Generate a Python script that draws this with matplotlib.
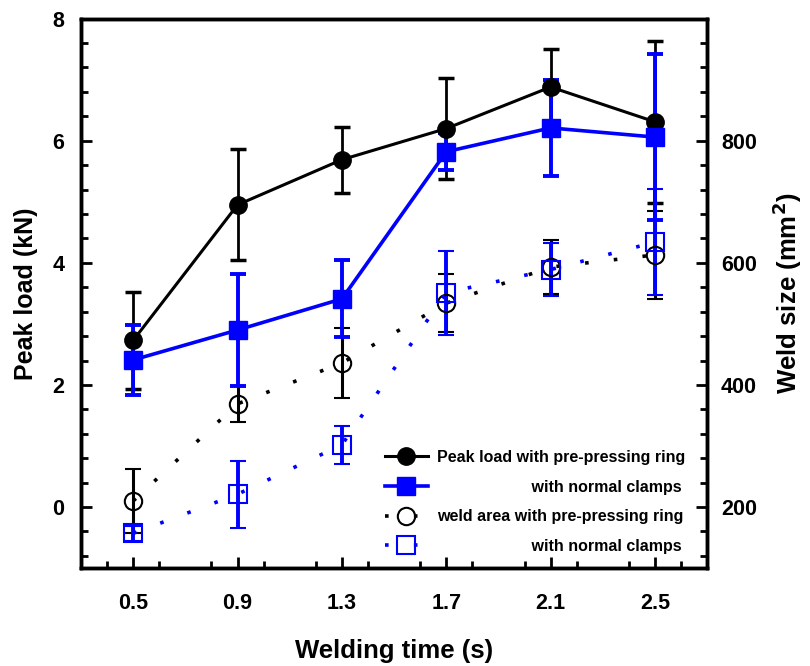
import matplotlib
matplotlib.use('Agg')
import matplotlib.pyplot as plt
from matplotlib.lines import Line2D
from matplotlib.ticker import MultipleLocator

plt.rcParams['font.family'] = ['Liberation Sans', 'DejaVu Sans']
plt.rcParams['font.weight'] = 'bold'

# welding time (s)
tiempo = [0.5, 0.9, 1.3, 1.7, 2.1, 2.5]

# peak load (kN)
carga_anel = [2.73, 4.95, 5.69, 6.20, 6.88, 6.31]
erro_carga_anel = [0.79, 0.91, 0.54, 0.82, 0.62, 1.33]
carga_normal = [2.41, 2.90, 3.41, 5.82, 6.21, 6.06]
erro_carga_normal = [0.58, 0.92, 0.63, 0.30, 0.78, 1.36]

# weld size (mm2)
solda_anel = [210, 369, 436, 534, 593, 613]
erro_solda_anel = [53, 29, 58, 47, 44, 72]
solda_normal = [157, 221, 302, 551, 589, 634]
erro_solda_normal = [12, 55, 31, 69, 43, 87]

fig = plt.figure(figsize=(8.1, 6.66), dpi=100)
ax = fig.add_axes([0.100, 0.147, 0.773, 0.825])
ax2 = ax.twinx()

pontilhado = (0, (1, 7))

# weld size (right axis)
ax2.errorbar(tiempo, solda_anel, yerr=erro_solda_anel, color='black', marker='o',
             ms=12.5, mfc='none', mew=1.5, linestyle=pontilhado, lw=2.6,
             elinewidth=2.2, capsize=6, capthick=2.5)
ax2.errorbar(tiempo, solda_normal, yerr=erro_solda_normal, color='#0000ff', marker='s',
             ms=12.5, mfc='none', mew=1.5, linestyle=pontilhado, lw=2.6,
             elinewidth=2.8, capsize=6, capthick=2.8)

# peak load (left axis scale, drawn on the twin with 1 kN = 100 mm2)
ax2.errorbar(tiempo, [c * 100 + 200 for c in carga_anel],
             yerr=[e * 100 for e in erro_carga_anel], color='black', marker='o',
             ms=12.5, lw=2.2, elinewidth=2, capsize=6, capthick=2.5)
ax2.errorbar(tiempo, [c * 100 + 200 for c in carga_normal],
             yerr=[e * 100 for e in erro_carga_normal], color='#0000ff', marker='s',
             ms=12.5, lw=2.6, elinewidth=2.8, capsize=6, capthick=2.8)

ax.set_xlim(0.3, 2.7)
ax.set_ylim(-1, 8)
ax2.set_ylim(100, 1000)

ax.set_xticks(tiempo)
ax.set_xticklabels(['0.5', '0.9', '1.3', '1.7', '2.1', '2.5'])
ax.xaxis.set_minor_locator(MultipleLocator(0.2))
ax.set_yticks([0, 2, 4, 6, 8])
ax.yaxis.set_minor_locator(MultipleLocator(0.4))
ax2.set_yticks([200, 400, 600, 800])
ax2.yaxis.set_minor_locator(MultipleLocator(40))

for a in (ax, ax2):
    a.tick_params(which='major', direction='in', length=8, width=2, labelsize=15.5, pad=12)
    a.tick_params(which='minor', direction='in', length=5, width=2)
    for s in a.spines.values():
        s.set_linewidth(2.5)
ax.tick_params(axis='x', which='both', top=False)
ax.tick_params(axis='y', which='both', right=False)
ax.tick_params(axis='x', pad=18)
ax2.tick_params(axis='y', pad=10)

ax.set_xlabel('Welding time (s)', fontsize=18.5, fontweight='bold', labelpad=18)
ax.set_ylabel('Peak load (kN)', fontsize=18, fontweight='bold', labelpad=10)
ax2.set_ylabel('Weld size (mm$^\\mathbf{2}$)', fontsize=18.5, fontweight='bold', labelpad=10)

handles = [
    Line2D([], [], color='black', marker='o', ms=12.5, lw=2.2),
    Line2D([], [], color='#0000ff', marker='s', ms=12.5, lw=2.6),
    Line2D([], [], color='black', marker='o', ms=12.5, mfc='none', mew=1.5, lw=2.6, linestyle=pontilhado),
    Line2D([], [], color='#0000ff', marker='s', ms=12.5, mfc='none', mew=1.5, lw=2.6, linestyle=pontilhado),
]
rotulos = [
    'Peak load with pre-pressing ring',
    '                     with normal clamps',
    'weld area with pre-pressing ring',
    '                     with normal clamps',
]
ax2.legend(handles, rotulos, loc='upper left', bbox_to_anchor=(0.485, 0.215),
           frameon=False, fontsize=11.5, handlelength=2.7, handletextpad=0.6,
           labelspacing=0.92, borderpad=0, borderaxespad=0)

fig.savefig('out.png', dpi=100)
